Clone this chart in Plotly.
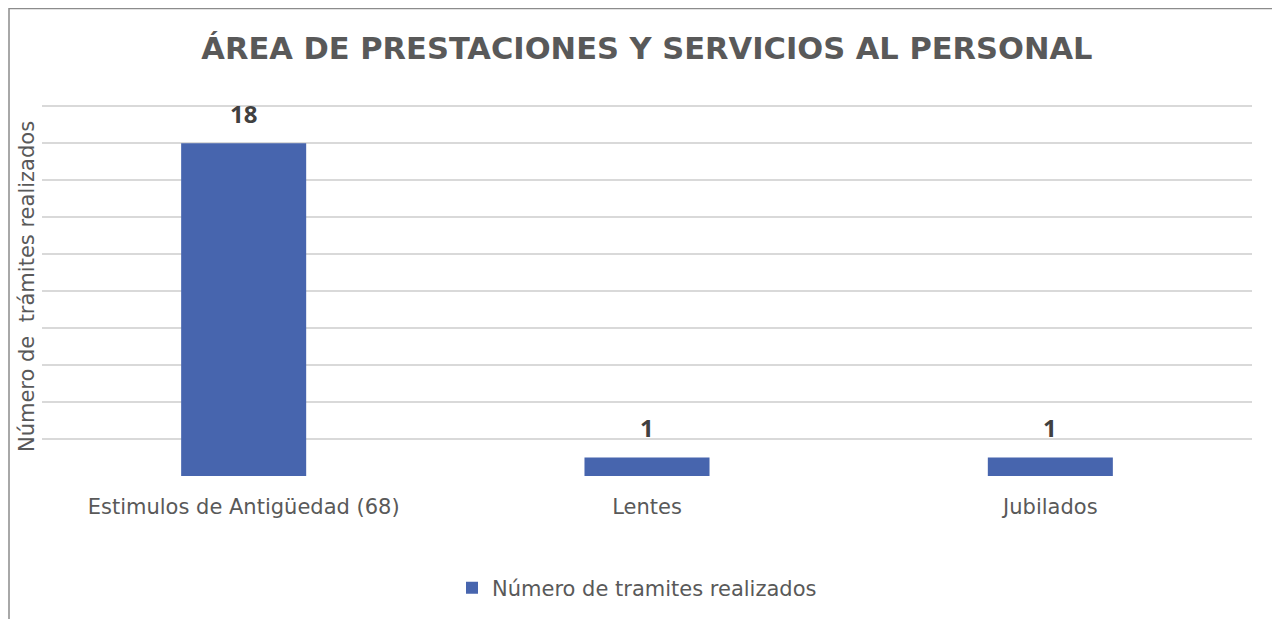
import plotly.graph_objects as go

categories = ["Estimulos de Antigüedad (68)", "Lentes", "Jubilados"]
values = [18, 1, 1]
series_name = "Número de tramites realizados"
title_text = "ÁREA DE PRESTACIONES Y SERVICIOS AL PERSONAL"
y_title = "Número de  trámites realizados"

OFF = 7  # page offset of the rendered figure
W, H = 1280, 619
Y_MAX = 20.5
L, R, T, B = 41 - OFF, 29 + OFF, 96 - OFF, 144 + OFF
pw, ph = W - L - R, H - T - B

def px_x(x):
    return (x - OFF - L) / pw

def px_y(y):
    return 1 - (y - OFF - T) / ph

FONT = "DejaVu Sans"

fig = go.Figure()
fig.add_trace(go.Bar(
    x=categories, y=values, name=series_name,
    marker=dict(color="#4765ae", line=dict(width=0)),
    width=0.31,
))

for c, v in zip(categories, values):
    fig.add_annotation(x=c, y=v, text=f"<b>{v}</b>", showarrow=False,
                       yshift=30, yanchor="middle",
                       font=dict(family="Open Sans", size=24, color="#404040"))

fig.update_layout(
    width=W, height=H,
    margin=dict(l=L, r=R, t=T, b=B),
    paper_bgcolor="white", plot_bgcolor="white",
    showlegend=True,
    title=dict(text="<b>" + title_text + "</b>", x=px_x(645), xanchor="center",
               y=1 - (47 - OFF) / H, yanchor="middle",
               font=dict(family=FONT, size=30.5, color="#595959")),
    legend=dict(orientation="h", x=px_x(636), xanchor="center", y=px_y(587), yanchor="middle",
                font=dict(family=FONT, size=21, color="#595959"),
                itemwidth=30, traceorder="normal"),
    xaxis=dict(showgrid=False, showline=False, zeroline=False,
               tickfont=dict(family=FONT, size=21, color="#595959"),
               ticks="", ticklabelstandoff=16),
    yaxis=dict(range=[0, Y_MAX], dtick=2, showgrid=True, gridcolor="#d9d9d9", gridwidth=1.5,
               showticklabels=False, zeroline=False, showline=False, ticks="",
               title=dict(text=y_title, standoff=0,
                          font=dict(family=FONT, size=21, color="#595959"))),
    bargap=0.69,
)

# Outer frame (left and top border of the chart area)
fig.add_shape(type="path", xref="paper", yref="paper",
              path=f"M {px_x(8)} {px_y(640)} L {px_x(8)} {px_y(7.5)} L {px_x(1300)} {px_y(7.5)}",
              line=dict(color="#8c8c8c", width=1.5))

fig.write_html("out.html")
